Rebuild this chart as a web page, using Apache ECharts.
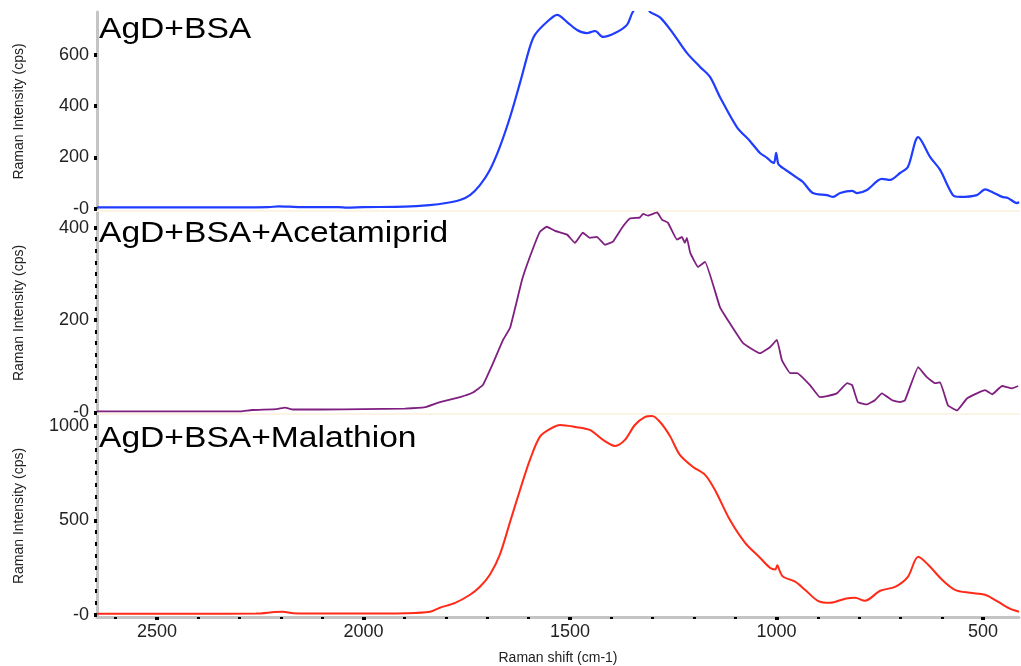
<!DOCTYPE html>
<html>
<head>
<meta charset="utf-8">
<script src="https://cdn.jsdelivr.net/npm/echarts@6/dist/echarts.min.js"></script>
<style>
html,body{margin:0;padding:0;background:#fff;}
#chart{width:1021px;height:666px;}
</style>
</head>
<body>
<div id="chart"></div>
<script>
// ---- data ----
const panelTitles = ['AgD+BSA', 'AgD+BSA+Acetamiprid', 'AgD+BSA+Malathion'];

const bsaShift = [2645, 2450, 2300, 2230, 2205, 2180, 2150, 2060, 2040, 2000, 1900, 1840, 1800, 1766, 1742, 1718, 1694, 1670, 1645, 1621, 1597, 1585, 1556, 1531, 1507, 1483, 1459, 1445, 1439, 1420, 1391, 1362, 1348, 1330, 1315, 1306, 1282, 1251, 1217, 1185, 1161, 1137, 1096, 1064, 1040, 1023, 1012, 1006, 1001, 996, 990, 984, 950, 936, 912, 878, 863, 846, 817, 805, 781, 745, 725, 701, 682, 657, 628, 604, 573, 556, 515, 495, 476, 454, 440, 418, 413];
const bsaIntensity = [5, 5, 5, 6, 9, 8, 6, 6, 4, 6, 8, 14, 22, 34, 53, 92, 151, 240, 357, 490, 630, 677, 727, 755, 727, 696, 684, 690, 692, 669, 684, 716, 766, 795, 790, 766, 745, 684, 607, 552, 513, 435, 318, 263, 217, 198, 182, 178, 217, 175, 165, 158, 120, 104, 61, 53, 46, 61, 69, 61, 73, 116, 112, 139, 162, 279, 201, 151, 53, 46, 53, 75, 63, 46, 42, 22, 26];

const acetShift = [2645, 2300, 2270, 2210, 2190, 2170, 2100, 2000, 1900, 1850, 1815, 1766, 1735, 1711, 1686, 1662, 1645, 1616, 1597, 1573, 1556, 1536, 1507, 1488, 1469, 1452, 1435, 1415, 1396, 1374, 1355, 1331, 1323, 1311, 1289, 1277, 1263, 1241, 1229, 1222, 1217, 1209, 1190, 1173, 1137, 1113, 1081, 1040, 1016, 999, 987, 967, 950, 919, 895, 878, 854, 829, 817, 803, 781, 762, 745, 720, 701, 689, 657, 636, 616, 604, 585, 563, 539, 515, 495, 478, 454, 430, 415];
const acetIntensity = [2, 2, 5, 7, 10, 6, 6, 7, 8, 11, 22, 33, 43, 59, 107, 157, 183, 287, 337, 391, 402, 393, 385, 367, 389, 378, 380, 363, 370, 400, 420, 422, 430, 426, 433, 417, 411, 374, 380, 367, 378, 346, 315, 326, 228, 193, 150, 128, 141, 157, 113, 85, 85, 59, 33, 35, 41, 63, 59, 22, 17, 26, 41, 26, 22, 26, 98, 76, 63, 65, 15, 4, 30, 41, 48, 39, 57, 52, 57];

const malaShift = [2645, 2400, 2260, 2215, 2195, 2170, 2100, 2000, 1900, 1839, 1815, 1778, 1742, 1718, 1694, 1670, 1645, 1621, 1597, 1573, 1548, 1524, 1488, 1452, 1420, 1391, 1367, 1343, 1318, 1301, 1282, 1258, 1234, 1202, 1173, 1149, 1113, 1076, 1040, 1016, 1003, 998, 992, 984, 955, 931, 900, 870, 834, 810, 786, 749, 713, 682, 657, 633, 599, 568, 532, 495, 464, 435, 413];
const malaIntensity = [5, 5, 6, 14, 16, 8, 6, 6, 8, 16, 37, 63, 106, 148, 212, 317, 492, 661, 820, 942, 984, 1005, 995, 979, 926, 894, 926, 1005, 1048, 1053, 1021, 947, 847, 783, 741, 661, 503, 381, 302, 249, 240, 262, 230, 201, 175, 132, 74, 63, 85, 90, 74, 127, 148, 201, 307, 265, 185, 132, 116, 106, 69, 32, 16];

const xTicks = [500, 1000, 1500, 2000, 2500];
const yTicks = [[0, 200, 400, 600], [0, 200, 400], [0, 500, 1000]];
const yMinorStep = [null, 25, 62.5];
const xRange = [413, 2645];
const yRanges = [[-9, 766], [-3.7, 434], [-12, 1058]];

// ---- chart ----
const FONT = '"Liberation Sans", Arial, Helvetica, sans-serif';
const gridTops = [12, 212, 415];
const gridBottoms = [211, 414, 617];
const colors = ['#1f3cff', '#7f1f80', '#ff2a17'];
const widths = [2.2, 1.8, 2];
const shifts = [bsaShift, acetShift, malaShift];
const intens = [bsaIntensity, acetIntensity, malaIntensity];

function pairs(xs, ys) { return xs.map((x, i) => [x, ys[i]]); }

const xMinor = [];
for (let v = 500; v <= 2600; v += 100) if (v % 500 !== 0) xMinor.push(v);

const grids = gridTops.map((t, i) => ({ left: 97, right: 2, top: t, height: gridBottoms[i] - t }));

const xAxes = [];
const yAxes = [];
for (let i = 0; i < 3; i++) {
  const last = i === 2;
  xAxes.push({
    gridIndex: i, type: 'value', position: 'bottom', min: xRange[0], max: xRange[1], inverse: true,
    splitLine: { show: false },
    axisLine: { show: true, onZero: false, lineStyle: { color: last ? '#c4c4c4' : '#fbf3e3', width: last ? 3 : 2 } },
    axisTick: last ? { show: true, inside: false, customValues: xTicks, length: 3, lineStyle: { color: '#000', width: 4 } } : { show: false },
    axisLabel: last ? { show: true, customValues: xTicks, margin: 6, fontSize: 18, color: '#222', fontFamily: FONT, formatter: v => String(v) } : { show: false },
    name: last ? 'Raman shift (cm-1)' : '',
    nameLocation: 'middle', nameGap: 34,
    nameTextStyle: { fontSize: 14, color: '#222', fontFamily: FONT }
  });
  yAxes.push({
    gridIndex: i, type: 'value', position: 'left', min: yRanges[i][0], max: yRanges[i][1],
    splitLine: { show: false },
    axisLine: { show: true, onZero: false, lineStyle: { color: '#c4c4c4', width: 3 } },
    axisTick: { show: true, inside: false, customValues: yTicks[i], length: 3, lineStyle: { color: '#000', width: 4 } },
    axisLabel: {
      show: true, customValues: yTicks[i], margin: 8, fontSize: 18, color: '#222', fontFamily: FONT,
      formatter: v => (v === 0 ? '-0' : String(v))
    },
    name: 'Raman Intensity (cps)', nameLocation: 'middle', nameGap: 71,
    nameTextStyle: { fontSize: 14, color: '#222', fontFamily: FONT }
  });
}
// minor tick axes
xAxes.push({
  gridIndex: 2, type: 'value', position: 'bottom', offset: 0, min: xRange[0], max: xRange[1], inverse: true,
  splitLine: { show: false }, axisLine: { show: false, onZero: false },
  axisTick: { show: true, inside: false, customValues: xMinor, length: 2, lineStyle: { color: '#000', width: 3 } },
  axisLabel: { show: false }
});
for (let i = 1; i < 3; i++) {
  const vals = [];
  const step = yMinorStep[i];
  const top = yTicks[i][yTicks[i].length - 1];
  for (let k = 1; k * step < top; k++) {
    const v = k * step;
    if (!yTicks[i].some(t => Math.abs(t - v) < 1e-6)) vals.push(v);
  }
  yAxes.push({
    gridIndex: i, type: 'value', position: 'left', offset: 0, min: yRanges[i][0], max: yRanges[i][1],
    splitLine: { show: false }, axisLine: { show: false, onZero: false },
    axisTick: { show: true, inside: false, customValues: vals, length: 2, lineStyle: { color: '#000', width: 4 } },
    axisLabel: { show: false }
  });
}

const series = [0, 1, 2].map(i => ({
  type: 'line', xAxisIndex: i, yAxisIndex: i,
  data: pairs(shifts[i], intens[i]),
  showSymbol: false, symbol: 'none',
  smooth: i === 1 ? 0.1 : 0.3,
  lineStyle: { color: colors[i], width: widths[i] },
  clip: true, silent: true, animation: false
}));

const titleY = [30, 234, 439];
const graphic = panelTitles.map((t, i) => ({
  type: 'text', x: 99, y: titleY[i], scaleX: 1.12, z: 10,
  style: { text: t, fontSize: 30, fontFamily: FONT, fill: '#000', verticalAlign: 'middle', align: 'left' }
}));

const chart = echarts.init(document.getElementById('chart'), null, { renderer: 'canvas' });
chart.setOption({
  backgroundColor: '#fff',
  animation: false,
  grid: grids,
  xAxis: xAxes,
  yAxis: yAxes,
  series: series,
  graphic: graphic
});
</script>
</body>
</html>
